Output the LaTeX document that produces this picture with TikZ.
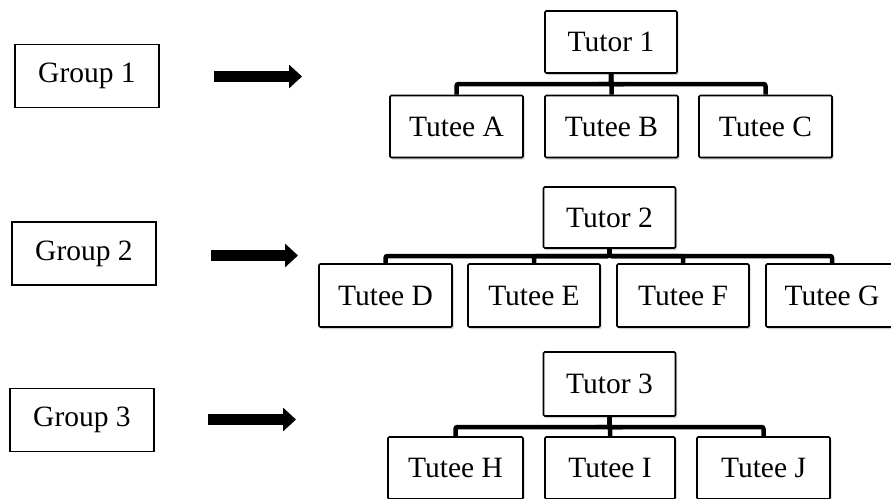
\documentclass[tikz,border=0pt]{standalone}
\usepackage{fontspec}
\setmainfont{Liberation Serif}
\usetikzlibrary{arrows.meta,shadows}
\begin{document}
\begin{tikzpicture}[x=1pt,y=-1pt,
  every node/.style={font=\fontsize{29.5}{34}\selectfont, text=black},
  grp/.style={draw=black, line width=1.8pt, inner sep=0pt, minimum width=144pt, minimum height=63pt},
  org/.style={draw=black, line width=1.6pt, inner sep=0pt, fill=white, rounded corners=1.2pt,
     minimum width=132pt, minimum height=62pt,
     drop shadow={shadow xshift=1.5pt, shadow yshift=-2pt, fill=black, opacity=0.18}},
  conn/.style={draw=black, line width=4.5pt, rounded corners=2pt},
  bigarrow/.style={draw=black, line width=11pt, -{Triangle[length=13pt, width=23pt]}}
]
\useasboundingbox (0,0) rectangle (891,498);
\clip (0,0) rectangle (891,498);

% Groups
\node[grp] (g1) at (87,76) {Group 1};
\node[grp] (g2) at (84,253.5) {Group 2};
\node[grp] (g3) at (82,420) {Group 3};

% Arrows
\coordinate (a1s) at (214,76.5); \coordinate (a1e) at (302,76.5);
\coordinate (a2s) at (211,255.5); \coordinate (a2e) at (298,255.5);
\coordinate (a3s) at (208,419.5); \coordinate (a3e) at (296,419.5);
\draw[bigarrow] (a1s) -- (a1e);
\draw[bigarrow] (a2s) -- (a2e);
\draw[bigarrow] (a3s) -- (a3e);

% Bus lines
\coordinate (b1) at (0,84);
\coordinate (b2) at (0,256);
\coordinate (b3) at (0,427);

% Row 1
\node[org] (t1) at (611,42) {Tutor 1};
\node[org, minimum width=133pt] (ta) at (456.5,126.5) {Tutee A};
\node[org, minimum width=133pt] (tb) at (611.5,126.5) {Tutee B};
\node[org, minimum width=133pt] (tc) at (765.5,126.5) {Tutee C};
\foreach \c in {ta,tb,tc}{\draw[conn] (t1.south) -- (t1.south |- b1) -| (\c.north);}

% Row 2
\node[org, minimum height=61pt] (t2) at (609.5,217.5) {Tutor 2};
\node[org, minimum width=133pt, minimum height=63pt] (td) at (385.5,295.5) {Tutee D};
\node[org, minimum height=63pt] (te) at (534,295.5) {Tutee E};
\node[org, minimum height=63pt] (tf) at (683,295.5) {Tutee F};
\node[org, minimum height=63pt] (tg) at (832,295.5) {Tutee G};
\foreach \c in {td,te,tf,tg}{\draw[conn] (t2.south) -- (t2.south |- b2) -| (\c.north);}

% Row 3
\node[org, minimum height=64pt] (t3) at (609.5,384) {Tutor 3};
\node[org, minimum width=135pt] (th) at (455.5,468) {Tutee H};
\node[org, minimum width=130pt] (ti) at (610,468) {Tutee I};
\node[org, minimum width=133pt] (tj) at (763.5,468) {Tutee J};
\foreach \c in {th,ti,tj}{\draw[conn] (t3.south) -- (t3.south |- b3) -| (\c.north);}
\end{tikzpicture}
\end{document}
